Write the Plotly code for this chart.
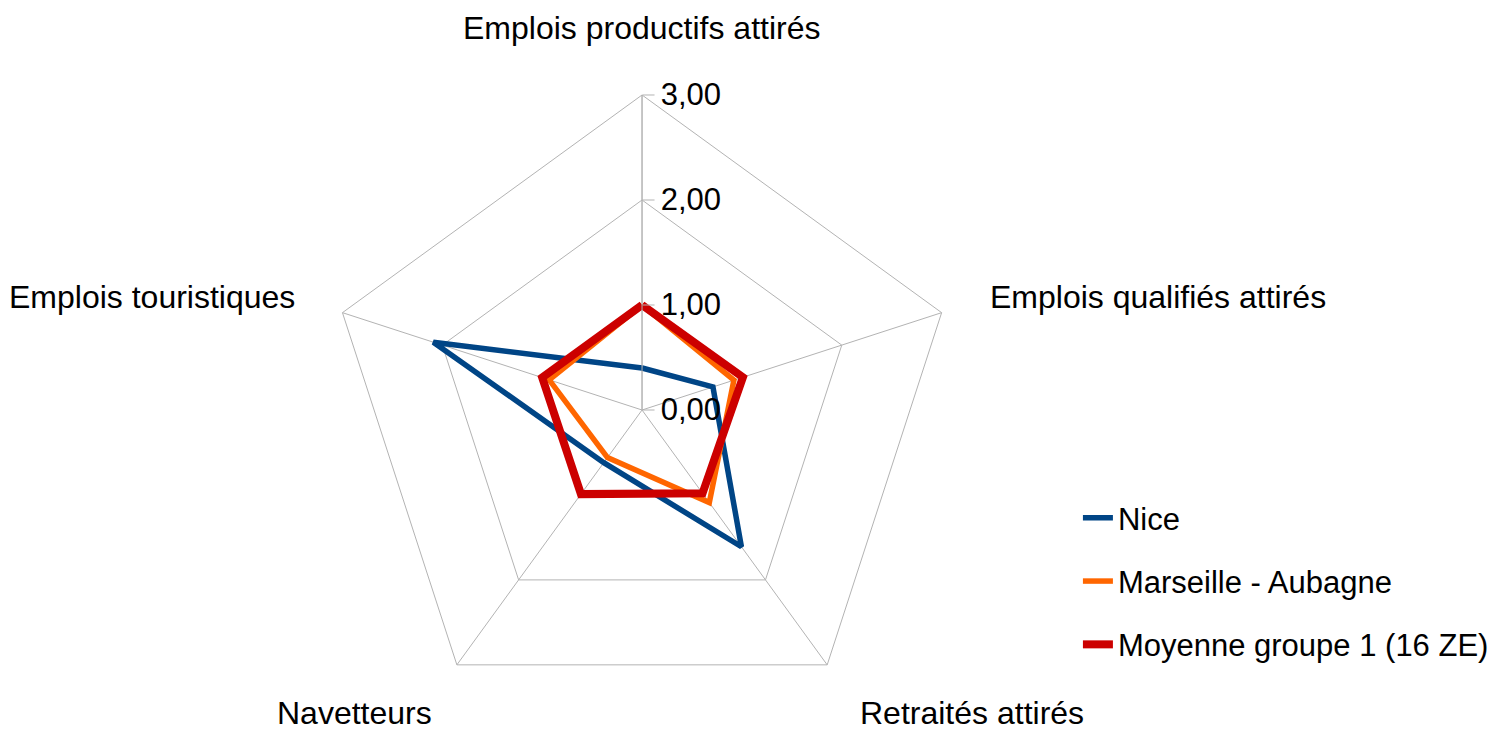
import plotly.graph_objects as go

categories = ["Emplois productifs attirés", "Emplois qualifiés attirés", "Retraités attirés",
              "Navetteurs", "Emplois touristiques"]
nice = [0.40, 0.71, 1.61, 0.62, 2.09]
marseille = [1.00, 0.92, 1.09, 0.56, 0.93]
moyenne = [1.00, 1.01, 0.98, 0.99, 1.00]
series_names = ["Nice", "Marseille - Aubagne", "Moyenne groupe 1 (16 ZE)"]
radial_ticks = [0, 1, 2, 3]

colors = ["#004586", "#ff6600", "#cc0000"]
widths = [5.5, 5.5, 8]
FONT = "Liberation Sans, Arial, sans-serif"
GRID = "#b3b3b3"

fig = go.Figure()
for name, vals, col, w in zip(series_names, [nice, marseille, moyenne], colors, widths):
    fig.add_trace(go.Scatterpolar(
        r=vals + [vals[0]], theta=categories + [categories[0]],
        mode="lines", name=name, legendgroup=name,
        line=dict(color=col, width=w),
    ))

# category labels as annotations
label_pos = [
    (0.4297, 0.962, "center"),
    (0.661, 0.595, "left"),
    (0.574, 0.027, "left"),
    (0.2376, 0.027, "center"),
    (0.1988, 0.595, "right"),
]
for cat, (x, y, xa) in zip(categories, label_pos):
    fig.add_annotation(text=cat, x=x, y=y, xref="paper", yref="paper",
                       xanchor=xa, yanchor="middle", showarrow=False,
                       font=dict(size=32, color="black", family=FONT))

fig.update_layout(
    width=1494, height=733,
    margin=dict(l=0, r=0, t=0, b=0),
    paper_bgcolor="white", plot_bgcolor="white",
    separators=", ",
    font=dict(family=FONT, size=31, color="black"),
    polar=dict(
        domain=dict(x=[0.2189, 0.6406], y=[0.0109, 0.8704]),
        bgcolor="white",
        gridshape="linear",
        radialaxis=dict(range=[0, 3], tickvals=radial_ticks, tickformat=".2f",
                        angle=90, tickangle=90, side="clockwise",
                        showline=True, linecolor=GRID, linewidth=1,
                        gridcolor=GRID, gridwidth=1,
                        ticks="outside", ticklen=12, tickcolor=GRID,
                        tickfont=dict(size=31, color="black", family=FONT)),
        angularaxis=dict(rotation=90, direction="clockwise",
                         showticklabels=False, ticks="",
                         showline=True, linecolor=GRID, linewidth=1,
                         gridcolor=GRID, gridwidth=1),
    ),
    legend=dict(x=0.7215, y=0.33, xanchor="left", yanchor="top",
                font=dict(size=31, color="black", family=FONT),
                tracegroupgap=20, bgcolor="rgba(0,0,0,0)"),
    showlegend=True,
)

fig.write_html("out.html", config={"displayModeBar": False},
               post_script="document.body.style.margin='0';")
